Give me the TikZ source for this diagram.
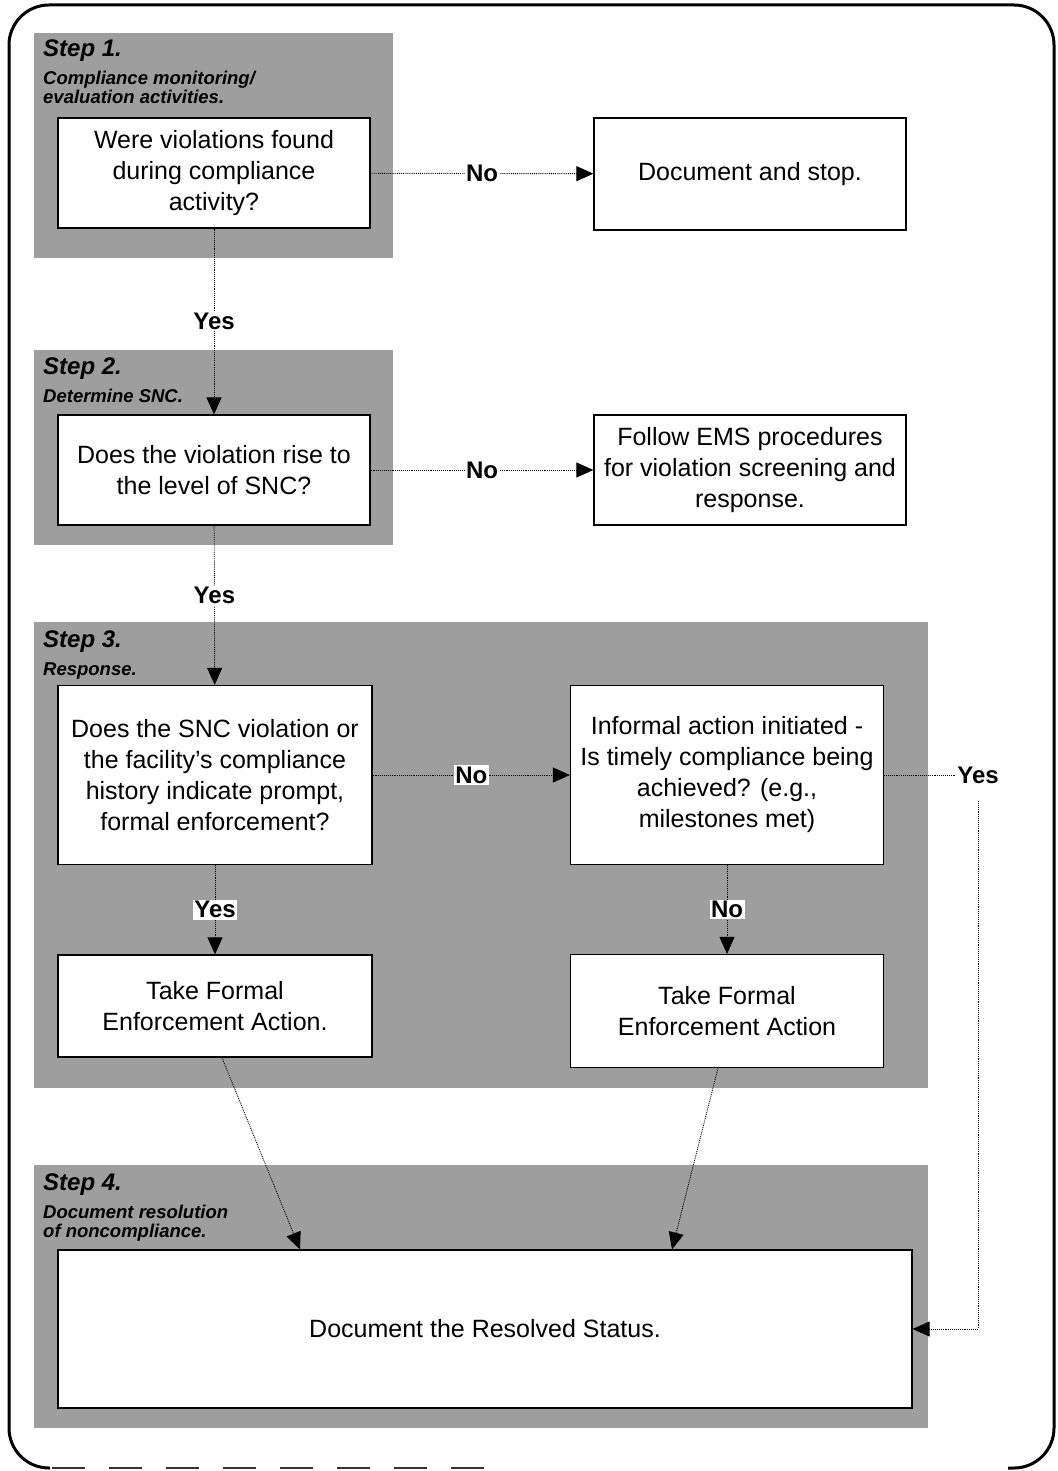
\documentclass[tikz,border=0pt]{standalone}
\usepackage{fontspec}
\setmainfont{Liberation Sans}
\usetikzlibrary{arrows.meta,positioning}

\begin{document}
\begin{tikzpicture}[
    x=1pt, y=-1pt, % page pixels, y going down
    box/.style={draw, line width=1.2pt, fill=white, align=center, inner sep=2pt,
        font=\fontsize{25}{31}\selectfont}, % white question / action boxes
    lbl/.style={font=\fontsize{24}{24}\selectfont\bfseries, fill=white, inner sep=1.5pt}, % Yes / No
    conn/.style={densely dotted, line width=0.9pt, -{Triangle[length=17pt,width=15pt]}},
    wire/.style={densely dotted, line width=0.9pt},
    shade/.style={fill=black!38},
    steptitle/.style={anchor=north west, inner sep=0pt, font=\fontsize{24}{24}\selectfont\bfseries\itshape},
    stepsub/.style={anchor=north west, inner sep=0pt, align=left, font=\fontsize{18.5}{18.5}\selectfont\bfseries\itshape}
]
    \useasboundingbox (0,0) rectangle (1057,1471);

    % outer frame
    \draw[line width=3pt, rounded corners=40pt] (50,1468) -| (9,5) -| (1054,1468) -- (1008,1468);
    \draw[line width=2.5pt, black!80, dash pattern=on 33pt off 24pt] (52,1468) -- (500,1468);

    % shaded step areas
    \fill[shade] (34,33) rectangle (393,258);
    \fill[shade] (34,350) rectangle (393,545);
    \fill[shade] (34,622) rectangle (928,1088);
    \fill[shade] (34,1165) rectangle (928,1428);

    % step headings
    \node[steptitle] (s1) at (43,40) {Step 1.};
    \node[stepsub, yshift=-9pt] (s1sub) at (s1.south west) {Compliance monitoring/\\evaluation activities.};
    \node[steptitle] (s2) at (43,358) {Step 2.};
    \node[stepsub, yshift=-9pt] (s2sub) at (s2.south west) {Determine SNC.};
    \node[steptitle] (s3) at (43,631) {Step 3.};
    \node[stepsub, yshift=-9pt] (s3sub) at (s3.south west) {Response.};
    \node[steptitle] (s4) at (43,1174) {Step 4.};
    \node[stepsub, yshift=-9pt] (s4sub) at (s4.south west) {Document resolution\\of noncompliance.};

    % boxes
    \node[box, minimum width=312pt, minimum height=110pt] (found) at (214,173)
        {Were violations found\\during compliance\\activity?};
    \node[box, minimum width=312pt, minimum height=112pt] (stop) at (750,174)
        {Document and stop.};
    \node[box, minimum width=312pt, minimum height=110pt] (rise) at (214,470)
        {Does the violation rise to\\the level of SNC?};
    \node[box, minimum width=312pt, minimum height=110pt] (ems) at (750,470)
        {Follow EMS procedures\\for violation screening and\\response.};
    \node[box, minimum width=314pt, minimum height=179pt] (prompt) at (215,775)
        {Does the SNC violation or\\the facility's compliance\\history indicate prompt,\\formal enforcement?};
    \node[box, minimum width=313pt, minimum height=179pt] (informal) at (727,775)
        {Informal action initiated -\\Is timely compliance being\\achieved? (e.g.,\\milestones met)};
    \node[box, minimum width=314pt, minimum height=102pt] (formala) at (215,1006)
        {Take Formal\\Enforcement Action.};
    \node[box, minimum width=313pt, minimum height=113pt] (formalb) at (727,1011)
        {Take Formal\\Enforcement Action};
    \node[box, minimum width=854pt, minimum height=158pt] (resolved) at (485,1329)
        {Document the Resolved Status.};

    % connectors
    \draw[conn] (found) -- node[lbl] {No} (stop);
    \draw[conn] (found) -- node[lbl] {Yes} (rise);
    \draw[conn] (rise) -- node[lbl] {No} (ems);
    \draw[conn] (rise) -- node[lbl, pos=0.44] {Yes} (prompt);
    \draw[conn] (prompt) -- node[lbl] {No} (informal);
    \draw[conn] (prompt) -- node[lbl] {Yes} (formala);
    \draw[conn] (informal) -- node[lbl] {No} (formalb);
    \node[lbl] (yesr) at (978,775) {Yes};
    \draw[wire] (informal) -- (yesr);
    \draw[conn] ([yshift=-16pt]yesr.south) |- (resolved);
    \draw[conn] ([xshift=7pt]formala.south) -- ([xshift=-185pt]resolved.north);
    \draw[conn] ([xshift=-9pt]formalb.south) -- ([xshift=187pt]resolved.north);
\end{tikzpicture}
\end{document}
